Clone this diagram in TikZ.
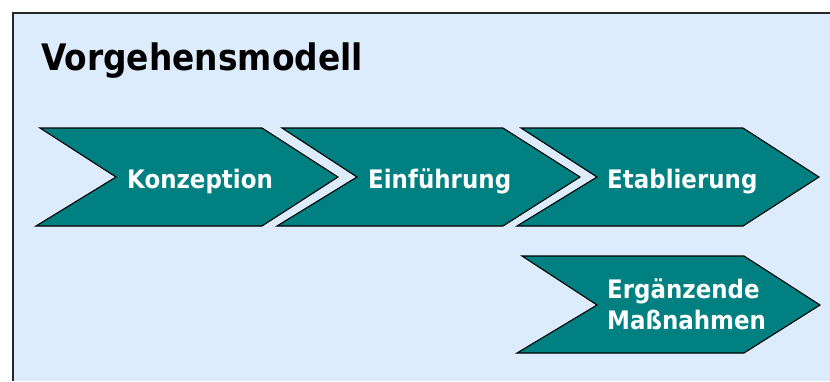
\documentclass[tikz,border=0pt]{standalone}
\usepackage{fontspec}
\setmainfont{DejaVu Sans Condensed}
\definecolor{panelblue}{RGB}{220,236,252}
\definecolor{teal}{RGB}{0,128,128}
\begin{document}
\begin{tikzpicture}[x=1pt,y=1pt,
  chevron/.style={fill=teal,draw=black,line width=1.1pt,line join=miter},
  lbl/.style={anchor=base west,text=white,font=\bfseries\fontsize{25.5}{31}\selectfont,inner sep=0pt,align=left},
  title/.style={anchor=base west,font=\bfseries\fontsize{36.5}{42}\selectfont,inner sep=0pt}]
\useasboundingbox (0,0) rectangle (830,381);
% panel
\fill[panelblue] (13,368) rectangle (830,0);
\draw[black!85,line width=1.6pt] (13,0) -- (13,368) -- (830,368);
% title
\node[title] (t) at (41,310) {Vorgehensmodell};
% chevrons (y = 381 - pixel y)
\draw[chevron] (40,253) -- (262,253) -- (338,204) -- (262,155) -- (36,155) -- (116,204) -- cycle;
\draw[chevron] (282,253) -- (503,253) -- (580,204) -- (503,155) -- (277,155) -- (357,204) -- cycle;
\draw[chevron] (521,253) -- (743,253) -- (819,204) -- (743,155) -- (517,155) -- (597,204) -- cycle;
\draw[chevron] (522,125) -- (744,125) -- (820,76) -- (744,28) -- (517,28) -- (597,76) -- cycle;
\node[lbl] (k) at (127,193) {Konzeption};
\node[lbl] (e) at (368,193) {Einführung};
\node[lbl] (s) at (607,193) {Etablierung};
\node[lbl,anchor=west] (m) at (607,77) {Ergänzende\\Maßnahmen};
\end{tikzpicture}
\end{document}
